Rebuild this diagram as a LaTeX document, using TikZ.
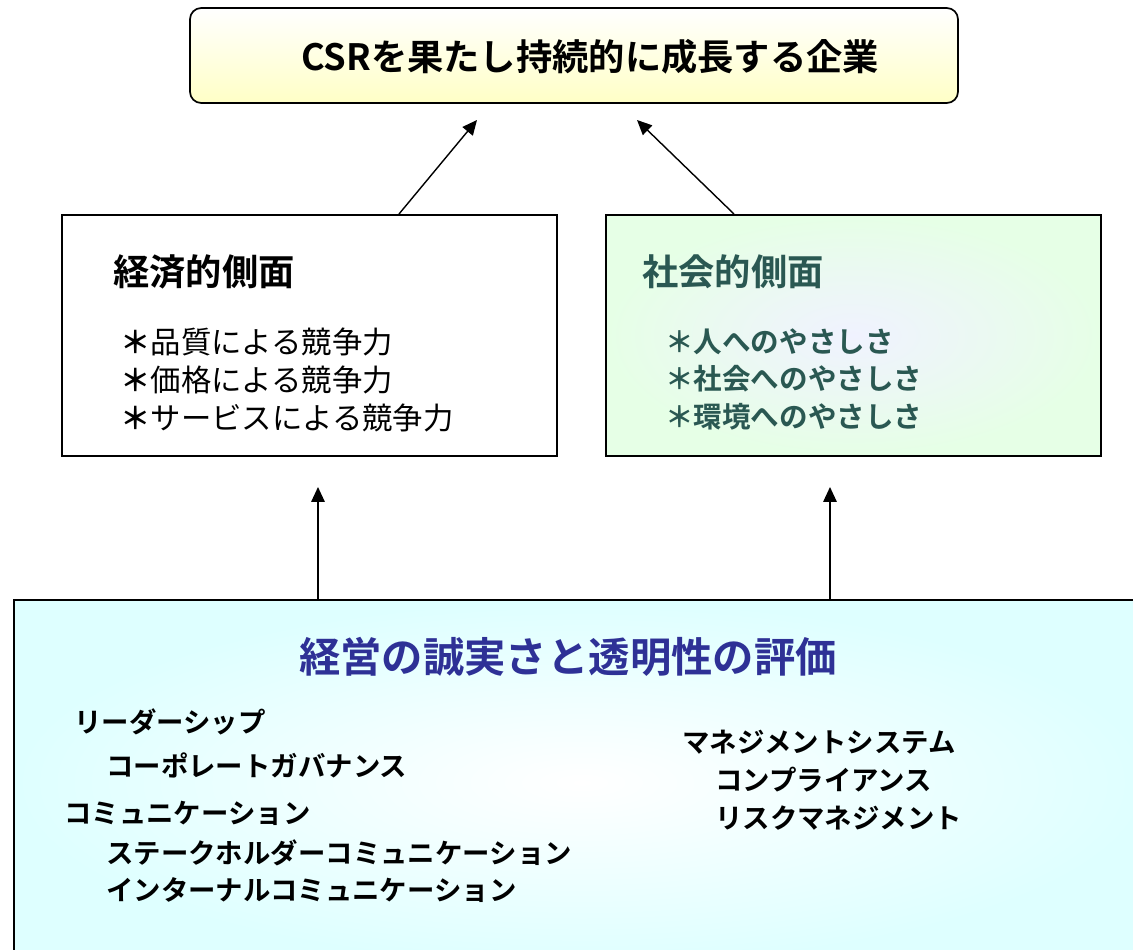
\documentclass[tikz,border=0pt]{standalone}
\usepackage{fontspec}
\setmainfont{Noto Sans CJK JP}[BoldFont={Noto Sans CJK JP Bold}]
\usetikzlibrary{arrows.meta}

\definecolor{socialtext}{RGB}{42,88,82}
\definecolor{evalblue}{RGB}{46,49,150}
\definecolor{goalyellow}{RGB}{255,255,198}
\definecolor{socialgreen}{RGB}{230,255,230}
\definecolor{sociallilac}{RGB}{240,242,255}
\definecolor{evalcyan}{RGB}{222,255,255}

\newcommand{\itemmark}{{\bfseries ＊}}

\begin{document}
\begin{tikzpicture}[x=0.025cm,y=-0.025cm,
    txt/.style={inner sep=0pt, anchor=west},
    headfont/.style={font=\fontsize{25.8}{30}\selectfont\bfseries},
    itemfont/.style={font=\fontsize{19.5}{24}\selectfont\bfseries},
    link/.style={-{Triangle[length=10.5pt,width=9.5pt]}, line width=1pt}]

        \useasboundingbox (0,0) rectangle (1133,949);
        \clip (0,0) rectangle (1133,949);

        % Boxes
        \coordinate (g1) at (190,8);
        \coordinate (g2) at (958,103);
        \coordinate (e1) at (62,215);
        \coordinate (e2) at (557,456);
        \coordinate (s1) at (606,215);
        \coordinate (s2) at (1101,456);
        \coordinate (b1) at (14,600);
        \coordinate (b2) at (1150,965);

        \shade[draw=black, line width=1.2pt, rounded corners=8pt,
            top color=white, bottom color=goalyellow] (g1) rectangle (g2);
        \draw[line width=1.2pt, fill=white] (e1) rectangle (e2);
        \shade[draw=black, line width=1.2pt,
            inner color=sociallilac, outer color=socialgreen] (s1) rectangle (s2);
        \shade[draw=black, line width=1.4pt,
            inner color=white, outer color=evalcyan] (b1) rectangle (b2);

        % Texts
        \node[headfont] (goal) at (590,57) {CSRを果たし持続的に成長する企業};

        \node[txt, headfont] (econ) at (113,272) {経済的側面};
        \node[txt, align=left, font=\fontsize{21.6}{26.7}\selectfont] (econlist) at (120,380)
            {\itemmark 品質による競争力\\\itemmark 価格による競争力\\\itemmark サービスによる競争力};

        \node[txt, headfont, text=socialtext] (social) at (642,272) {社会的側面};
        \node[txt, align=left, text=socialtext, font=\fontsize{20.3}{26.7}\selectfont\bfseries]
            (sociallist) at (665,379)
            {＊人へのやさしさ\\＊社会へのやさしさ\\＊環境へのやさしさ};

        \node[text=evalblue, font=\fontsize{29.4}{34}\selectfont\bfseries] (eval) at (568,657)
            {経営の誠実さと透明性の評価};

        \node[txt, itemfont] (lead) at (74,722) {リーダーシップ};
        \node[txt, itemfont] (gov) at (106,765) {コーポレートガバナンス};
        \node[txt, itemfont] (comm) at (64,813) {コミュニケーション};
        \node[txt, itemfont] (stake) at (106,853) {ステークホルダーコミュニケーション};
        \node[txt, itemfont] (internal) at (106,890) {インターナルコミュニケーション};
        \node[txt, itemfont] (mgmt) at (682,742) {マネジメントシステム};
        \node[txt, itemfont] (comp) at (715,780) {コンプライアンス};
        \node[txt, itemfont] (risk) at (715,818) {リスクマネジメント};

        % Arrows
        \coordinate (econtop) at (399,214);
        \coordinate (socialtop) at (734,214);
        \coordinate (goalleft) at (477,120);
        \coordinate (goalright) at (637,120);
        \coordinate (evalleft) at (318,599);
        \coordinate (evalright) at (830,599);
        \coordinate (econbottom) at (318,487);
        \coordinate (socialbottom) at (830,487);

        \draw[link] (econtop) -- (goalleft);
        \draw[link] (socialtop) -- (goalright);
        \draw[link] (evalleft) -- (econbottom);
        \draw[link] (evalright) -- (socialbottom);

\end{tikzpicture}
\end{document}
